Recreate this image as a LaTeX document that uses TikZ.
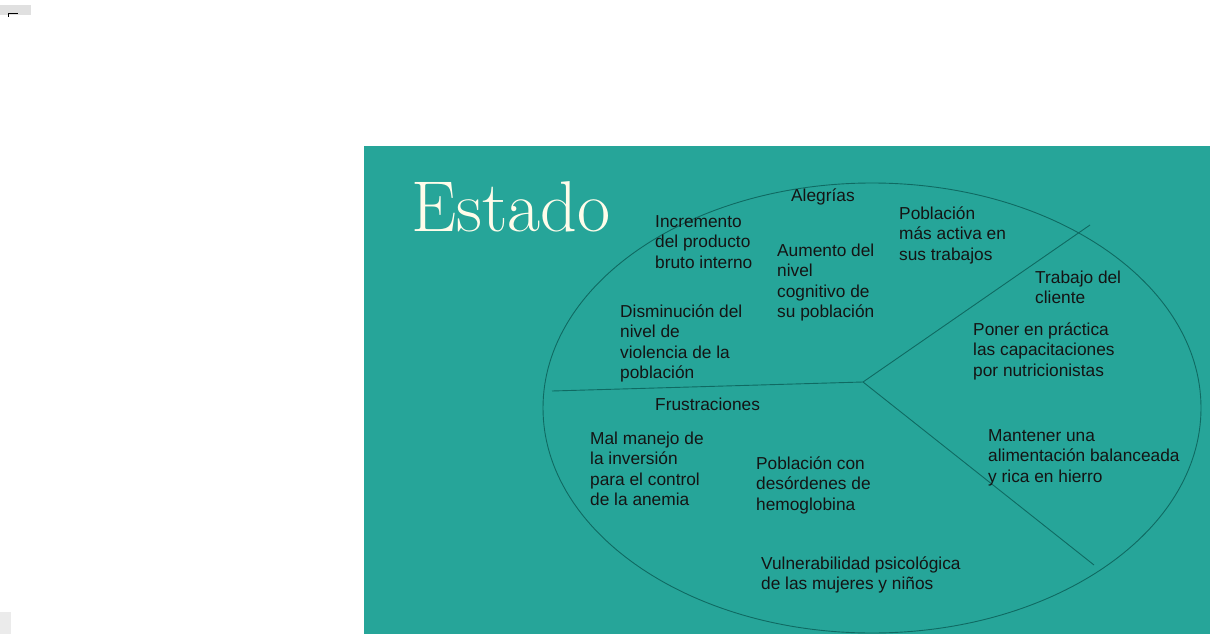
\documentclass[tikz,border=0pt]{standalone}
\usepackage{fontspec}
\newfontfamily\labelfont{Liberation Sans}
\usetikzlibrary{shapes.geometric}
\definecolor{tealbg}{HTML}{26A599}
\definecolor{lineteal}{HTML}{0F6A62}
\definecolor{titlecol}{HTML}{FFFCEA}
\definecolor{txt}{HTML}{141414}
\begin{document}
\begin{tikzpicture}[x=1pt,y=-1pt,
  lbl/.style={anchor=base west,inner sep=0pt,align=left,text=txt,
    font=\labelfont\fontsize{17.3}{20.6}\selectfont},
  divider/.style={draw=lineteal,line width=0.9pt}]
\useasboundingbox (0,0) rectangle (1218,634);
\fill[white] (0,0) rectangle (1218,634);
% stray marks at the left edge
\fill[black!12] (0,5) rectangle (31,15);
\fill[black] (8,13.5) rectangle (18,14.5);
\fill[black] (8,13.5) rectangle (9,17);
\fill[black!8] (0,612) rectangle (11,634);
% panel
\fill[tealbg] (364,146) rectangle (1210,634);
\node[anchor=base west,inner sep=0pt,text=titlecol,font=\fontsize{72}{80}\selectfont] (title) at (411,231) {Estado};
% oval and dividers
\node[ellipse,draw=lineteal,line width=0.9pt,minimum width=658pt,minimum height=450pt,inner sep=0pt] (oval) at (872,408) {};
\coordinate (hub) at (863,382);
\coordinate (west) at (552,391);
\coordinate (ne) at (1090,225);
\coordinate (se) at (1094,565);
\draw[divider] (west) -- (hub) -- (ne);
\draw[divider] (hub) -- (se);
% labels (anchored at the baseline of the last line)
\node[lbl] (alegrias) at (791,201) {Alegrías};
\node[lbl] (pbi) at (655,268.2) {Incremento\\del producto\\bruto interno};
\node[lbl] (cognitivo) at (777,317.8) {Aumento del\\nivel\\cognitivo de\\su población};
\node[lbl] (activa) at (899,260.2) {Población\\más activa en\\sus trabajos};
\node[lbl] (trabajo) at (1035,303.6) {Trabajo del\\cliente};
\node[lbl] (practica) at (973,376.2) {Poner en práctica\\las capacitaciones\\por nutricionistas};
\node[lbl] (violencia) at (620,378.8) {Disminución del\\nivel de\\violencia de la\\población};
\node[lbl] (frustra) at (655,410) {Frustraciones};
\node[lbl] (inversion) at (590,505.8) {Mal manejo de\\la inversión\\para el control\\de la anemia};
\node[lbl] (hemo) at (756,510.2) {Población con\\desórdenes de\\hemoglobina};
\node[lbl] (hierro) at (988,482.2) {Mantener una\\alimentación balanceada\\y rica en hierro};
\node[lbl] (vulnera) at (761,589.6) {Vulnerabilidad psicológica\\de las mujeres y niños};
\end{tikzpicture}
\end{document}
